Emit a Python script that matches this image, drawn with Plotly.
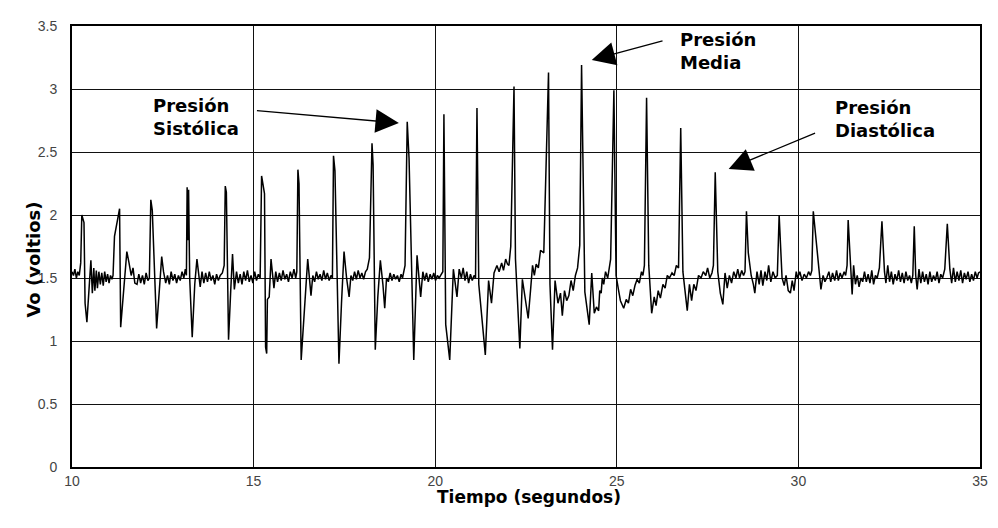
import plotly.graph_objects as go

tiempo = [
10.00,10.04,10.08,10.12,10.16,10.20,10.24,10.27,10.33,10.36,10.41,10.47,10.52,10.56,10.60,10.63,10.67,10.70,10.74,10.78,10.82,10.86,10.90,10.94,10.98,11.02,11.06,11.10,11.13,11.17,11.31,11.34,11.42,11.51,11.57,11.63,11.68,11.73,11.79,11.84,11.89,11.94,11.99,12.04,12.09,12.13,12.17,12.21,12.33,12.40,12.47,12.52,12.58,12.63,12.68,12.73,12.78,12.83,12.88,12.93,12.98,13.03,13.08,13.12,13.15,13.17,13.19,13.21,13.24,13.31,13.38,13.44,13.53,13.58,13.63,13.68,13.73,13.78,13.83,13.88,13.93,13.98,14.03,14.08,14.14,14.19,14.22,14.25,14.31,14.37,14.42,14.47,14.53,14.58,14.63,14.68,14.73,14.78,14.83,14.88,14.93,14.98,15.03,15.08,15.13,15.18,
15.22,15.30,15.33,15.36,15.38,15.43,15.48,15.56,15.61,15.66,15.71,15.76,15.81,15.86,15.91,15.96,16.01,16.06,16.11,16.16,16.19,16.22,16.25,16.31,16.40,16.49,16.58,16.63,16.68,16.73,16.78,16.83,16.88,16.93,16.98,17.03,17.08,17.13,17.17,17.20,17.24,17.35,17.42,17.49,17.56,17.63,17.68,17.73,17.78,17.83,17.88,17.93,17.98,18.03,18.08,18.13,18.19,18.26,18.29,18.35,18.42,18.49,18.56,18.61,18.66,18.71,18.76,18.81,18.86,18.91,18.96,19.01,19.06,19.10,19.17,19.23,19.28,19.41,19.50,19.55,19.60,19.66,19.71,19.76,19.81,19.86,19.91,19.96,20.01,20.06,20.11,20.15,20.21,20.24,20.29,20.40,20.50,20.60,20.66,20.72,20.77,20.82,20.87,20.92,20.97,21.02,21.07,21.11,
21.15,21.20,21.38,21.47,21.55,21.62,21.70,21.76,21.83,21.88,21.94,21.99,22.03,22.08,22.17,22.21,22.33,22.40,22.48,22.56,22.63,22.68,22.73,22.78,22.84,22.90,22.99,23.12,23.16,23.23,23.30,23.38,23.45,23.50,23.56,23.62,23.68,23.74,23.80,23.86,23.92,23.98,24.03,24.12,24.24,24.31,24.38,24.44,24.50,24.53,24.57,24.60,24.64,24.69,24.75,24.83,24.92,24.98,25.05,25.10,25.19,25.26,25.32,25.38,25.44,25.50,25.56,25.62,25.68,25.72,25.76,25.82,25.88,25.96,26.03,26.08,26.14,26.20,26.27,26.33,26.39,26.45,26.52,26.58,26.64,26.70,26.76,26.82,26.87,26.94,27.00,27.06,27.12,27.18,27.25,27.32,27.38,27.45,27.50,27.56,27.62,27.66,27.71,27.78,27.85,27.92,27.98,28.04,28.10,28.16,28.22,28.28,28.33,28.38,28.44,28.49,28.53,
28.57,28.62,28.70,28.76,28.80,28.86,28.92,28.97,29.02,29.08,29.13,29.18,29.24,29.30,29.36,29.42,29.47,29.55,29.61,29.66,29.72,29.78,29.83,29.88,29.94,29.98,30.04,30.10,30.16,30.22,30.28,30.33,30.37,30.41,30.52,30.62,30.68,30.73,30.78,30.84,30.89,30.94,31.00,31.05,31.10,31.15,31.20,31.26,31.30,31.34,31.37,31.44,31.48,31.52,31.57,31.62,31.67,31.72,31.77,31.82,31.87,31.92,31.97,32.02,32.07,32.12,32.17,32.23,32.30,32.37,32.41,32.46,32.51,32.56,32.61,32.66,32.71,32.76,32.81,32.86,32.91,32.96,33.01,33.06,33.11,33.15,33.19,33.23,33.27,33.32,33.37,33.42,33.47,33.52,33.57,33.62,33.67,33.72,33.77,33.82,33.87,33.92,33.97,34.03,34.10,34.17,34.22,34.27,34.32,34.37,34.42,34.47,34.52,34.57,34.62,34.67,34.72,34.77,34.82,34.87,34.92,34.96,35.00,
]

voltaje = [
1.55,1.52,1.57,1.50,1.55,1.52,1.62,2.00,1.94,1.30,1.15,1.40,1.64,1.38,1.58,1.40,1.56,1.42,1.55,1.45,1.54,1.44,1.55,1.47,1.53,1.46,1.52,1.49,1.52,1.83,2.05,1.11,1.40,1.71,1.62,1.52,1.58,1.46,1.45,1.53,1.46,1.52,1.45,1.54,1.48,1.50,2.12,2.04,1.10,1.40,1.67,1.55,1.46,1.52,1.45,1.55,1.48,1.53,1.46,1.52,1.48,1.55,1.50,1.57,1.52,2.22,1.80,2.20,1.50,1.03,1.45,1.65,1.43,1.55,1.46,1.54,1.47,1.55,1.48,1.52,1.45,1.53,1.48,1.52,1.54,1.60,2.23,2.18,1.01,1.40,1.69,1.41,1.55,1.46,1.53,1.45,1.55,1.48,1.56,1.47,1.52,1.46,1.55,1.48,1.53,1.50,
2.31,2.17,0.95,0.90,1.33,1.35,1.65,1.42,1.55,1.47,1.54,1.48,1.56,1.49,1.53,1.47,1.55,1.50,1.57,1.50,1.55,2.36,2.25,0.85,1.30,1.65,1.36,1.52,1.47,1.55,1.49,1.53,1.48,1.56,1.49,1.54,1.48,1.52,1.50,2.47,2.35,0.82,1.30,1.71,1.50,1.35,1.52,1.48,1.55,1.49,1.56,1.50,1.54,1.49,1.55,1.57,1.66,2.57,2.40,0.93,1.35,1.64,1.45,1.26,1.50,1.47,1.54,1.48,1.53,1.49,1.52,1.47,1.53,1.50,1.60,2.74,2.45,0.85,1.68,1.50,1.35,1.55,1.48,1.54,1.47,1.53,1.49,1.54,1.48,1.52,1.50,1.52,1.55,2.80,1.13,0.85,1.57,1.35,1.57,1.50,1.58,1.48,1.55,1.46,1.53,1.48,1.52,1.50,
2.85,1.45,0.89,1.48,1.30,1.54,1.60,1.55,1.62,1.56,1.65,1.61,1.60,1.75,3.02,1.65,0.94,1.49,1.33,1.18,1.42,1.60,1.52,1.61,1.58,1.72,1.70,3.13,1.45,0.93,1.48,1.30,1.38,1.20,1.40,1.32,1.36,1.48,1.40,1.52,1.58,1.76,3.19,1.39,1.13,1.54,1.22,1.27,1.24,1.40,1.38,1.50,1.45,1.55,1.50,1.65,2.99,1.52,1.40,1.32,1.26,1.33,1.30,1.41,1.36,1.44,1.49,1.46,1.55,1.52,1.60,2.93,1.60,1.22,1.35,1.28,1.40,1.34,1.45,1.42,1.52,1.50,1.54,1.52,1.60,1.58,2.69,1.55,1.42,1.24,1.45,1.32,1.45,1.40,1.52,1.50,1.55,1.52,1.58,1.50,1.54,1.60,2.34,1.55,1.38,1.29,1.54,1.42,1.52,1.46,1.55,1.50,1.57,1.50,1.56,1.52,1.55,
2.03,1.70,1.52,1.45,1.38,1.55,1.45,1.56,1.44,1.55,1.48,1.60,1.47,1.55,1.50,1.52,2.00,1.50,1.44,1.52,1.40,1.38,1.48,1.40,1.55,1.50,1.55,1.48,1.53,1.50,1.55,1.52,1.56,2.03,1.70,1.41,1.52,1.47,1.50,1.55,1.47,1.54,1.48,1.56,1.48,1.54,1.50,1.55,1.52,1.60,1.96,1.52,1.37,1.60,1.45,1.52,1.43,1.50,1.47,1.55,1.47,1.53,1.46,1.56,1.45,1.52,1.50,1.58,1.95,1.55,1.46,1.60,1.47,1.55,1.45,1.53,1.48,1.56,1.47,1.54,1.46,1.55,1.48,1.52,1.46,1.52,1.91,1.52,1.41,1.57,1.46,1.55,1.47,1.53,1.45,1.55,1.47,1.52,1.48,1.55,1.46,1.53,1.50,1.57,1.93,1.57,1.46,1.58,1.47,1.55,1.48,1.56,1.46,1.54,1.49,1.55,1.47,1.53,1.48,1.55,1.50,1.54,1.55,
]

x_ticks = [10, 15, 20, 25, 30, 35]
y_ticks = [0, 0.5, 1, 1.5, 2, 2.5, 3, 3.5]
y_tick_labels = ["0", "0.5", "1", "1.5", "2", "2.5", "3", "3.5"]

etiquetas = ["Presión<br>Sistólica", "Presión<br>Media", "Presión<br>Diastólica"]
pos_texto = [(12.18, 2.97), (26.69, 3.49), (30.94, 2.955)]
flechas = [((19.0, 2.73), (15.05, 2.83)), ((24.31, 3.23), (26.3, 3.385)), ((28.08, 2.365), (30.5, 2.655))]

fig = go.Figure()
fig.add_trace(go.Scatter(x=tiempo, y=voltaje, mode="lines",
                         line=dict(color="black", width=1.5), showlegend=False))

ann = []
for txt, (tx, ty) in zip(etiquetas, pos_texto):
    ann.append(dict(x=tx, y=ty, xref="x", yref="y", text=txt, showarrow=False,
                    xanchor="left", yanchor="top", align="left",
                    font=dict(family="DejaVu Sans", size=18, color="black", weight="bold")))
for (tip, tail) in flechas:
    ann.append(dict(x=tip[0], y=tip[1], ax=tail[0], ay=tail[1], xref="x", yref="y",
                    axref="x", ayref="y", text="", showarrow=True, arrowhead=2,
                    arrowsize=3.6, arrowwidth=1.3, arrowcolor="black"))
ann.append(dict(x=0.503, y=-0.069, xref="paper", yref="paper", text="Tiempo (segundos)",
                showarrow=False, xanchor="center", yanchor="middle",
                font=dict(family="DejaVu Sans", size=17, color="black", weight="bold")))
ann.append(dict(x=-0.042, y=0.47, xref="paper", yref="paper", text="Vo (voltios)",
                showarrow=False, xanchor="center", yanchor="middle", textangle=-90,
                font=dict(family="DejaVu Sans", size=18, color="black", weight="bold")))

fig.update_layout(
    width=990, height=520,
    margin=dict(l=64, r=10, t=12, b=61),
    paper_bgcolor="white", plot_bgcolor="white",
    annotations=ann,
)
fig.update_xaxes(range=[10, 35], tickvals=x_ticks, showgrid=True, gridcolor="#111", gridwidth=1,
                 showline=True, linecolor="black", linewidth=2, mirror=True, zeroline=False,
                 ticks="", ticklabelstandoff=0,
                 tickfont=dict(family="Liberation Sans Narrow, Liberation Sans", size=14, color="#444"))
fig.update_yaxes(range=[0, 3.5], tickvals=y_ticks, ticktext=y_tick_labels, showgrid=True,
                 gridcolor="#111", gridwidth=1,
                 showline=True, linecolor="black", linewidth=2, mirror=True, zeroline=False,
                 ticks="", ticklabelstandoff=10,
                 tickfont=dict(family="Liberation Sans Narrow, Liberation Sans", size=14, color="#444"))

fig.write_html("out.html")
